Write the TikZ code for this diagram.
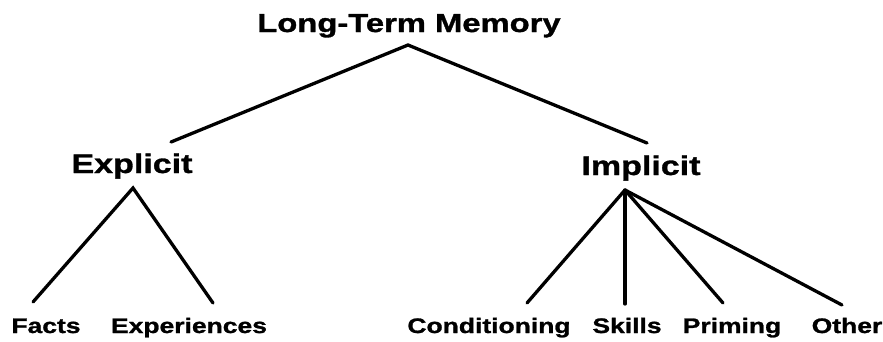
\documentclass[tikz,border=0pt]{standalone}
\usepackage{fontspec}
\newfontfamily\labfont[FakeStretch=1.26,BoldFeatures={FakeBold=1.2}]{Liberation Sans}
\tikzset{
  lab/.style={inner sep=0pt, anchor=base, font=\labfont\bfseries},
  top/.style={lab, font=\labfont\bfseries\fontsize{26}{28}\selectfont},
  mid/.style={lab, font=\labfont\bfseries\fontsize{27}{29}\selectfont},
  leaf/.style={lab, font=\labfont\bfseries\fontsize{21}{23}\selectfont},
  branch/.style={line width=3.3pt, line cap=round, line join=miter}
}
\begin{document}
\begin{tikzpicture}[x=1pt,y=-1pt]
\useasboundingbox (0,0) rectangle (883,341);
\node[top] (ltm) at (409,32) {Long-Term Memory};
\node[mid] (exp) at (132,173) {Explicit};
\node[mid] (imp) at (641,175) {Implicit};
\node[leaf] (facts) at (46,333) {Facts};
\node[leaf] (expr) at (189,333) {Experiences};
\node[leaf] (cond) at (489,333) {Conditioning};
\node[leaf] (skil) at (627,333) {Skills};
\node[leaf] (prim) at (732,333) {Priming};
\node[leaf] (oth) at (847,333) {Other};
\coordinate (ltmA) at (408,45);
\coordinate (expT) at (171,142);
\coordinate (impT) at (647,143);
\coordinate (expA) at (133,188);
\coordinate (impA) at (625,190);
\coordinate (factsT) at (33,302);
\coordinate (exprT) at (213,303);
\coordinate (condT) at (527,303);
\coordinate (skilT) at (625,304);
\coordinate (primT) at (723,303);
\coordinate (othT) at (842,305);
\draw[branch] (expT) -- (ltmA) -- (impT);
\draw[branch] (factsT) -- (expA) -- (exprT);
\draw[branch] (impA) -- (condT);
\draw[branch] (impA) -- (skilT);
\draw[branch] (impA) -- (primT);
\draw[branch] (impA) -- (othT);
\end{tikzpicture}
\end{document}
